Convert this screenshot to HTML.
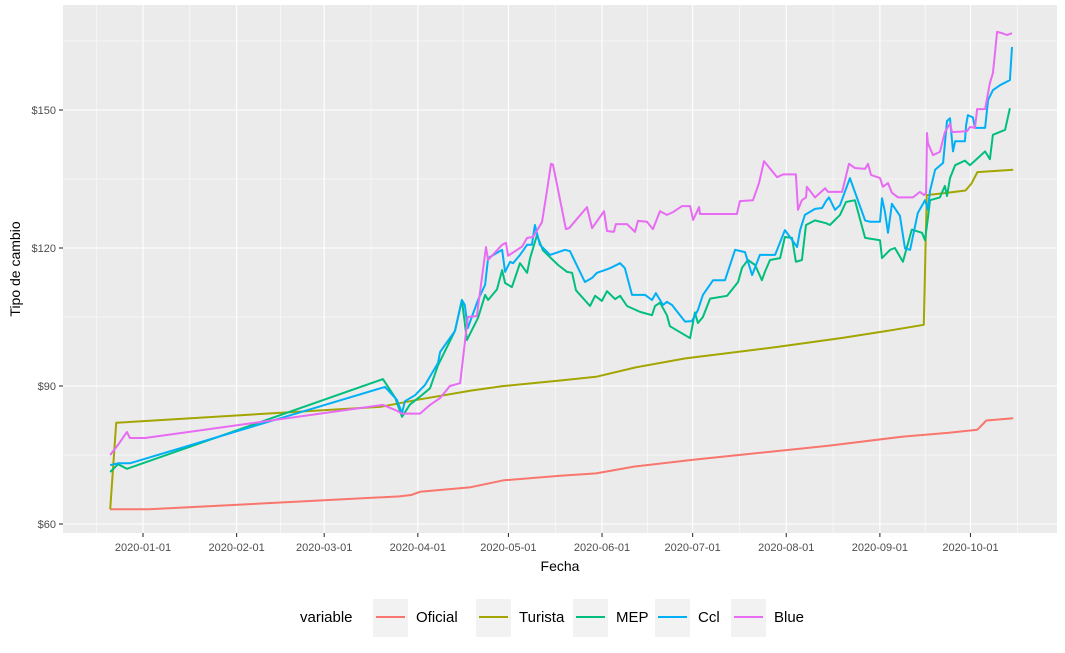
<!DOCTYPE html>
<html><head><meta charset="utf-8"><style>
body{margin:0;background:#fff;}
svg{display:block;font-family:"Liberation Sans",Arial,sans-serif;}
</style></head><body>
<svg id="chart" width="1065" height="653" viewBox="0 0 1065 653" xmlns="http://www.w3.org/2000/svg">
<rect x="63" y="5" width="994" height="528" fill="#EBEBEB"/>
<g id="grid"></g><g id="series"></g><g id="axes"></g>
<text x="560" y="571" font-size="14" text-anchor="middle" fill="#000">Fecha</text>
<text transform="translate(20,269) rotate(-90)" font-size="14" text-anchor="middle" fill="#000">Tipo de cambio</text>
<g id="legend"></g>
</svg>
<script>
const monthLabels=["2020-01-01","2020-02-01","2020-03-01","2020-04-01","2020-05-01","2020-06-01","2020-07-01","2020-08-01","2020-09-01","2020-10-01"];
const monthDays=[0,31,60,91,121,152,182,213,244,274];
const yTicks=[60,90,120,150];
const yMinor=[75,105,135,165];
const seriesNames=["Oficial","Turista","MEP","Ccl","Blue"];
// day offsets below were measured in a 2.98 px/day grid; converted to calendar days via dayFactor
const dayFactor=2.98/3.02;
const oficialDays=[-11,2,86,90,93,110,121,140,152,165,185,200,230,255,270,280,283,292];
const oficialVals=[63.2,63.2,66,66.3,67,68,69.5,70.5,71,72.5,74,75,77,79,79.8,80.5,82.5,83];
const turistaDays=[-11,-9,80,92,110,121,140,152,165,182,213,235,250,262,263,270,276,278,280,292];
const turistaVals=[63.2,82,85.5,87,89,90,91.2,92,94,96,98.5,100.5,102,103.3,131.5,132,132.5,134,136.5,137];
const mepDays=[-11,-8.4,-5.4,80.5,84.6,86.9,89.6,93,96.3,99,104.7,107,108.7,112.4,114.8,115.8,118.8,120.5,121.5,123.8,126.5,128.9,129.9,132.2,134.2,139.3,142.3,144,145.3,150,151.7,154,155.7,158.4,160.1,162.4,166.8,170.8,171.8,173.5,175.8,176.8,183.6,185.2,186.2,187.9,190.3,196,199.7,201,203,205.4,207.7,208.7,210.4,213.8,215.4,217.8,219.1,221.1,222.5,225.5,229.2,230.5,233.9,235.9,238.9,242.3,247.3,248,250.7,252.3,255,258,261.4,262.4,263.4,264.1,267.4,269.1,269.8,270.8,272.5,275.8,277.5,279.2,282.6,284.2,285.2,289.3,290.9];
const mepVals=[71.3,73,72,91.5,87.5,83.3,86,87.7,89.5,94.5,102,108.7,100,104.8,109.8,108.7,111,115.2,112.4,111.5,116.7,114.6,117.8,122.8,119.5,116.3,114.8,114.6,110.8,107.4,109.6,108.5,110.6,108.9,109.6,107.4,106.1,105.4,107.4,108.1,105.4,103,100.4,106,103.7,105,109,109.6,112.6,115.7,117.4,116.3,113,114.8,117.4,117.8,122.4,122.2,117,117.4,125,126,125.4,125,127.2,130,130.4,122.2,121.7,117.8,119.6,120,117,124,123.3,121.7,126.5,130.4,131,133.5,131.3,135.2,138,139,138,139,141,139.3,144.6,145.7,150.4];
const cclDays=[-11,-8.4,-4.4,81.2,85.2,86.9,87.9,91.3,94.6,99,99.7,104.7,107,108,109,112.4,114.8,115.8,120.5,121.5,123.2,124.2,126.5,128.9,130.5,131.5,133.2,134.9,136.6,141.6,143.3,145,148.3,150.7,152.3,155,156.7,160.1,161.7,164.1,168.5,170.8,172.1,174.5,175.8,177.5,180.2,181.9,184.2,186.2,187.9,191.3,195.3,198.7,202,204.4,207,212.1,215.4,217.1,219.5,220.5,222.1,225.5,227.9,229.2,230.2,232.2,233.9,237.2,242.3,244,247.3,248,249,250,251.3,254,255.7,257.4,260,262.4,263.4,264.1,265.8,268.5,269.8,270.8,271.8,272.5,275.8,276.2,276.8,278.5,279.2,282.6,283.6,285.2,287.6,290.9,291.6];
const cclVals=[72.8,73.2,73.2,89.8,87,84.1,86.7,88,90.2,95,97.4,102,108.7,107.6,102.6,108.7,112,117.8,119.6,114.8,117,116.7,118.5,120.7,120.7,125,120.7,119.6,118.5,119.6,119.3,117,112.6,113.5,114.6,115.2,115.6,116.7,115.6,109.8,109.8,108.7,110.2,107.6,108.3,107.6,105.4,104,104.1,106.5,109.8,113,113,119.6,119.1,114.1,118.5,118.5,123.9,122.4,120.2,123.9,127.2,128.5,128.7,130.2,131,128.3,129.3,135.2,126,125.7,125.7,130.8,127.8,123.3,129.6,127,119.9,119.6,127.6,130.4,128.3,132.4,137,138.5,147.6,148.2,141,143.2,143.2,146.7,148.9,148.4,146.1,146.1,152.2,154.3,155.4,156.5,163.7];
const blueDays=[-11,-8.4,-5.4,-4.4,0.7,80.5,84.6,86.9,93,96.3,99.7,103,106.4,109,112,115.1,115.8,120.5,121.8,122.5,127.2,128.9,130.9,133.9,135.6,136.9,137.6,141.9,143,149,150.7,154.7,155.7,158,158.7,162.4,165.1,166.1,169.1,171.1,173.5,175.8,177.9,180.9,183.6,184.6,186.6,186.9,199.3,200.3,204.7,206.7,208.4,212.8,214.8,219.1,219.8,221.1,222.5,222.8,225.5,228.9,229.9,234.6,236.9,238.9,242.3,243.3,244.3,247.3,248.3,250,251.3,253.4,258.4,260.7,262.1,262.8,263.1,263.4,265.1,267.4,269.1,270.8,271.5,276.5,277.5,279.2,279.9,282.6,284.2,285.2,285.9,286.6,288.3,289.9,291.6];
const blueVals=[75,77.2,80,78.7,78.7,85.9,84.8,84,84,85.9,87.4,90,90.6,105,105.2,120.2,117.4,120.7,121.1,118.3,120.3,122.2,122.4,125.6,132.6,138.3,138.1,124.1,124.3,128.9,124.3,128,123.7,123.5,125.2,125.2,123.5,125.9,125.7,124.1,128,127.2,127.8,129.1,129.1,126.1,128.9,127.4,127.4,130.2,130.4,134.1,138.9,135.4,136,136,128.3,130.4,131,133.3,131,133,132.2,132.2,138.3,137.4,137.2,138.3,135.9,135.2,133.3,134.1,132,131,131,132.2,131.5,132,145,142.8,140.2,140.9,145.2,147,145.2,145.4,146.3,146.1,150.2,150.2,155.9,158,162.4,167,166.7,166.3,166.7];

const NS="http://www.w3.org/2000/svg";
const X0=63,X1=1057,Y0=5,Y1=533;
function xs(d){return 143+d*3.02;}
function ys(v){return 524-(v-60)*4.6;}
function mk(tag,attrs,parent){const e=document.createElementNS(NS,tag);for(const k in attrs)e.setAttribute(k,attrs[k]);parent.appendChild(e);return e;}
const grid=document.getElementById('grid'),axes=document.getElementById('axes'),ser=document.getElementById('series'),leg=document.getElementById('legend');
for(let i=-1;i<monthDays.length;i++){
  const a=i<0?-31:monthDays[i], b=i+1<monthDays.length?monthDays[i+1]:305;
  const x=xs((a+b)/2);
  if(x>X0&&x<X1){const l=mk('line',{x1:x,x2:x,y1:Y0,y2:Y1,stroke:'#fff','stroke-width':0.55},grid);
  }
}
yMinor.forEach(v=>{const l=mk('line',{x1:X0,x2:X1,y1:ys(v),y2:ys(v),stroke:'#fff','stroke-width':0.55},grid);
  });
yTicks.forEach(v=>{const l=mk('line',{x1:X0,x2:X1,y1:ys(v),y2:ys(v),stroke:'#fff','stroke-width':1.1},grid);
  
  const t=mk('line',{x1:59,x2:63,y1:ys(v),y2:ys(v),stroke:'#333','stroke-width':1.1},axes);
  
  const tx=mk('text',{x:56,y:ys(v)+4,'font-size':11,'text-anchor':'end',fill:'#4D4D4D'},axes);tx.textContent='$'+v;
  });
monthDays.forEach((d,i)=>{const x=xs(d);
  const l=mk('line',{x1:x,x2:x,y1:Y0,y2:Y1,stroke:'#fff','stroke-width':1.1},grid);
  
  const t=mk('line',{x1:x,x2:x,y1:Y1,y2:Y1+4,stroke:'#333','stroke-width':1.1},axes);
  
  const tx=mk('text',{x:x,y:551,'font-size':11,'text-anchor':'middle',fill:'#4D4D4D'},axes);tx.textContent=monthLabels[i];
  });
const colors=["#F8766D","#A3A500","#00BF7D","#00B0F6","#E76BF3"];
const allDays=[oficialDays,turistaDays,mepDays,cclDays,blueDays];
const allVals=[oficialVals,turistaVals,mepVals,cclVals,blueVals];
allDays.forEach((ds,si)=>{
  const pts=ds.map((d,i)=>xs(d*dayFactor).toFixed(1)+','+ys(allVals[si][i]).toFixed(1)).join(' ');
  const p=mk('polyline',{points:pts,fill:'none',stroke:colors[si],'stroke-width':2,'stroke-linejoin':'round'},ser);
  
  
});
const lt=mk('text',{x:300,y:622,'font-size':15,fill:'#000'},leg);lt.textContent='variable';

const keyX=[373,476,573,655,731];
seriesNames.forEach((n,i)=>{
  const g=mk('g',{},leg);
  
  
  mk('rect',{x:keyX[i],y:599,width:35,height:38,fill:'#F2F2F2'},g);
  mk('line',{x1:keyX[i]+3,x2:keyX[i]+32,y1:617,y2:617,stroke:colors[i],'stroke-width':2},g);
  const t=mk('text',{x:keyX[i]+43,y:622,'font-size':15,fill:'#000'},g);t.textContent=n;
});
</script>
</body></html>
